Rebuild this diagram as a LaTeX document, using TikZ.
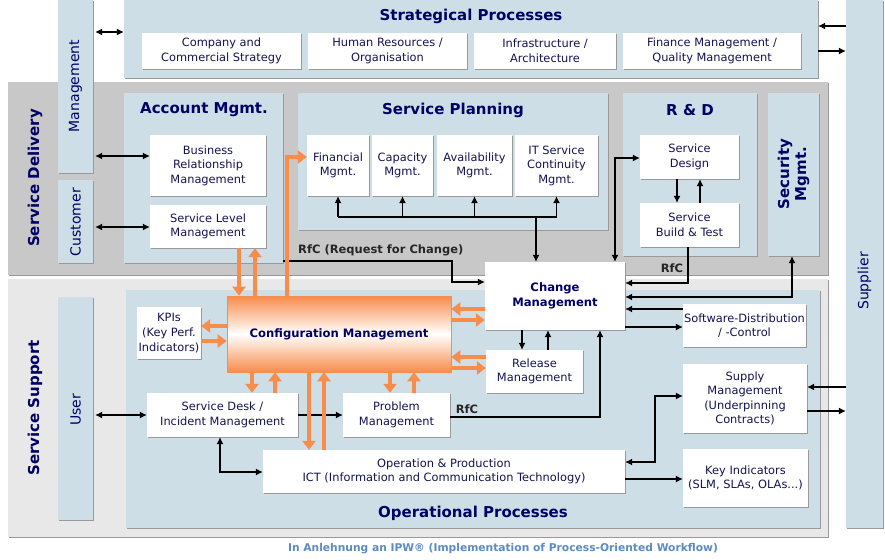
\documentclass[tikz,border=0pt]{standalone}
\usepackage{fontspec}
\setmainfont{DejaVu Sans}
\usetikzlibrary{arrows.meta,shadows}
\definecolor{lblue}{RGB}{206,222,230}
\definecolor{dgray}{RGB}{200,200,200}
\definecolor{lgray}{RGB}{232,232,232}
\definecolor{navy}{RGB}{0,0,102}
\definecolor{txt}{RGB}{20,20,80}
\definecolor{orng}{RGB}{248,140,75}
\definecolor{capc}{RGB}{90,140,195}
\tikzset{
  shad/.style={general shadow={fill=black!40, shadow xshift=1.3pt, shadow yshift=-1.3pt}},
  grp/.style={shad, fill=lblue, draw=none, inner sep=0pt},
  wbox/.style={shad, fill=white, draw=none, inner sep=0pt, text=txt, align=center,
    font=\fontsize{11.4}{14.6}\selectfont},
  ttl/.style={text=navy, font=\fontsize{15}{18}\selectfont\bfseries, inner sep=0pt},
  vlab/.style={text=navy, font=\fontsize{14}{16}\selectfont, rotate=90, inner sep=0pt},
  arr/.style={line width=1.1pt, -{Latex[length=7pt,width=7pt]}},
  dblarr/.style={line width=1.1pt, {Latex[length=7pt,width=7pt]}-{Latex[length=7pt,width=7pt]}},
  oarr/.style={draw=orng, line width=4.8pt, -{Triangle[length=9pt,width=13pt]}, orng},
  rlab/.style={font=\fontsize{11.5}{13}\selectfont\bfseries, text=black!85, inner sep=0pt},
}
\begin{document}
\begin{tikzpicture}[x=1pt,y=-1pt]
\useasboundingbox[fill=white] (0,0) rectangle (885,559);

% big areas
\node[grp, fill=dgray, minimum width=820pt, minimum height=193pt] (Deliv) at (418,178.5) {};
\node[grp, fill=lgray, minimum width=820pt, minimum height=258pt] (Supp) at (418,408) {};
\node[grp, minimum width=694pt, minimum height=78pt] (Strat) at (471,39) {};
\node[grp, minimum width=35pt, minimum height=173pt] (Mgmt) at (75.5,86.5) {};
\node[grp, minimum width=35pt, minimum height=83pt] (Cust) at (75.5,221.5) {};
\node[grp, minimum width=35pt, minimum height=223pt] (User) at (75.5,408.5) {};
\node[grp, minimum width=37pt, minimum height=528pt] (Supplier) at (864.5,264) {};
\node[grp, minimum width=159pt, minimum height=170pt] (Account) at (203.5,178) {};
\node[grp, minimum width=310pt, minimum height=137pt] (Plan) at (453,161.5) {};
\node[grp, minimum width=134pt, minimum height=163pt] (RD) at (690,174.5) {};
\node[grp, minimum width=51pt, minimum height=163pt] (Sec) at (793.5,174.5) {};
\node[grp, minimum width=694pt, minimum height=238pt] (Oper) at (473,409) {};

% titles and vertical labels
\node[ttl] (tStrat) at (471,16) {Strategical Processes};
\node[ttl] (tAcc) at (204,110) {Account Mgmt.};
\node[ttl] (tPlan) at (453,110) {Service Planning};
\node[ttl] (tRD) at (690,110) {R \& D};
\node[ttl] (tOper) at (473,513) {Operational Processes};
\node[ttl, rotate=90] (tDeliv) at (35,178) {Service Delivery};
\node[ttl, rotate=90] (tSupp) at (35,408) {Service Support};
\node[ttl, rotate=90, align=center, font=\fontsize{15}{17}\selectfont\bfseries] (tSec) at (793.5,174) {Security\\Mgmt.};
\node[vlab] (lMgmt) at (75.5,86) {Management};
\node[vlab] (lCust) at (75.5,222) {Customer};
\node[vlab] (lUser) at (75.5,410) {User};
\node[vlab] (lSupplier) at (864.5,281) {Supplier};

% white boxes
\node[wbox, minimum width=159pt, minimum height=36pt] (Comp) at (221.5,51) {Company and\\Commercial Strategy};
\node[wbox, minimum width=159pt, minimum height=36pt] (HR) at (387.5,51) {Human Resources /\\Organisation};
\node[wbox, minimum width=142pt, minimum height=36pt] (Infra) at (545,51) {Infrastructure /\\Architecture};
\node[wbox, minimum width=178pt, minimum height=36pt] (Fin) at (712,51) {Finance Management /\\Quality Management};
\node[wbox, minimum width=116pt, minimum height=61pt] (BRM) at (208,165.5) {Business\\Relationship\\Management};
\node[wbox, minimum width=116pt, minimum height=43pt] (SLM) at (208,226.5) {Service Level\\Management};
\node[wbox, minimum width=62pt, minimum height=61pt] (Financial) at (338,165.5) {Financial\\Mgmt.};
\node[wbox, minimum width=61pt, minimum height=61pt] (Capacity) at (402.5,165.5) {Capacity\\Mgmt.};
\node[wbox, minimum width=75pt, minimum height=61pt] (Avail) at (474.5,165.5) {Availability\\Mgmt.};
\node[wbox, minimum width=83pt, minimum height=61pt] (ITSCM) at (556.5,165.5) {IT Service\\Continuity\\Mgmt.};
\node[wbox, minimum width=99pt, minimum height=44pt] (SDesign) at (689.5,157) {Service\\Design};
\node[wbox, minimum width=99pt, minimum height=44pt] (SBuild) at (689.5,225) {Service\\Build \& Test};
\node[wbox, minimum width=140pt, minimum height=68pt, text=navy, font=\fontsize{11.6}{15.5}\selectfont\bfseries] (Change) at (555,296) {Change\\Management};
\node[wbox, minimum width=97pt, minimum height=43pt] (Release) at (534.5,371.5) {Release\\Management};
\node[wbox, minimum width=64pt, minimum height=52pt] (KPI) at (169,333) {KPIs\\(Key Perf.\\Indicators)};
\node[wbox, minimum width=123pt, minimum height=43pt] (SoftD) at (744.5,325.5) {Software-Distribution\\/ -Control};
\node[wbox, minimum width=124pt, minimum height=69pt] (Supply) at (745,398.5) {Supply\\Management\\(Underpinning\\Contracts)};
\node[wbox, minimum width=125pt, minimum height=58pt] (KeyInd) at (745.5,478) {Key Indicators\\(SLM, SLAs, OLAs...)};
\node[wbox, minimum width=151pt, minimum height=44pt] (SDesk) at (222.5,415) {Service Desk /\\Incident Management};
\node[wbox, minimum width=107pt, minimum height=44pt] (Problem) at (396.5,415) {Problem\\Management};
\node[wbox, minimum width=362pt, minimum height=43pt] (ICT) at (444,471.5) {Operation \& Production\\ICT (Information and Communication Technology)};
\node[shad, draw=orng, line width=0.6pt, top color=orng, bottom color=orng, middle color=white,
  minimum width=224pt, minimum height=76pt, inner sep=0pt, text=navy,
  font=\fontsize{11.6}{14}\selectfont\bfseries] (Config) at (339,334) {Configuration Management};

% labels
\node[rlab, anchor=west] (lRfC1) at (298,250) {RfC (Request for Change)};
\node[rlab] (lRfC2) at (672,268) {RfC};
\node[rlab] (lRfC3) at (467,409) {RfC};
\node[font=\fontsize{10.7}{13}\selectfont\bfseries, text=capc, inner sep=0pt] (cap) at (503,549) {In Anlehnung an IPW® (Implementation of Process-Oriented Workflow)};

% black connectors
\draw[dblarr] (Mgmt.east |- 0,32) ++(2,0) -- (Strat.west |- 0,32);
\draw[dblarr] (Mgmt.east |- 0,156) ++(2,0) -- (BRM.west |- 0,156);
\draw[dblarr] (Cust.east |- 0,227) ++(2,0) -- (SLM.west |- 0,227);
\draw[arr] (Supplier.west |- 0,26) -- (Strat.east |- 0,26);
\draw[arr] (Strat.east |- 0,51) -- (Supplier.west |- 0,51);
\draw[line width=1.1pt] (Financial.south |- 0,217) -- (ITSCM.south |- 0,217);
\foreach \n in {Financial,Capacity,Avail,ITSCM}
  \draw[arr] (\n.south |- 0,217) -- (\n.south);
\draw[arr] (536,217) -- (536,0 |- Change.north);
\draw[dblarr] (615,0 |- Change.north) |- (SDesign.west |- 0,158);
\draw[arr] (677,0 |- SDesign.south) -- (677,0 |- SBuild.north);
\draw[arr] (700,0 |- SBuild.north) -- (700,0 |- SDesign.south);
\draw[arr] (688,0 |- SBuild.south) |- (Change.east |- 0,283);
\draw[dblarr] (Change.east |- 0,297) -| (792,0 |- Sec.south);
\draw[arr] (SoftD.west |- 0,309) -- (Change.east |- 0,309);
\draw[arr] (Change.east |- 0,327) -- (SoftD.west |- 0,327);
\draw[arr] (Account.east |- 0,261) -| (452,282) -- (Change.west |- 0,282);
\draw[arr] (522,0 |- Change.south) -- (522,0 |- Release.north);
\draw[arr] (548,0 |- Release.north) -- (548,0 |- Change.south);
\draw[arr] (Problem.east |- 0,417) -| (600,0 |- Change.south);
\draw[dblarr] (User.east |- 0,415) ++(2,0) -- (SDesk.west |- 0,415);
\draw[arr] (SDesk.east |- 0,415) -- (Problem.west |- 0,415);
\draw[dblarr] (220,0 |- SDesk.south) |- (ICT.west |- 0,472);
\draw[dblarr] (ICT.east |- 0,462) -| (655,396) -- (Supply.west |- 0,396);
\draw[arr] (ICT.east |- 0,479) -- (KeyInd.west |- 0,479);
\draw[arr] (Supplier.west |- 0,387) -- (Supply.east |- 0,387);
\draw[arr] (Supply.east |- 0,411) -- (Supplier.west |- 0,411);

% orange connectors
\draw[oarr] (239,0 |- SLM.south) -- (239,0 |- Config.north);
\draw[oarr] (255,0 |- Config.north) -- (255,0 |- SLM.south);
\draw[oarr] (287,0 |- Config.north) |- (Financial.west |- 0,157);
\draw[oarr] (Change.west |- 0,309) -- (Config.east |- 0,309);
\draw[oarr] (Config.east |- 0,320) -- (Change.west |- 0,320);
\draw[oarr] (Release.west |- 0,357) -- (Config.east |- 0,357);
\draw[oarr] (Config.east |- 0,368) -- (Release.west |- 0,368);
\draw[oarr] (Config.west |- 0,326) -- (KPI.east |- 0,326);
\draw[oarr] (KPI.east |- 0,341) -- (Config.west |- 0,341);
\draw[oarr] (252,0 |- Config.south) -- (252,0 |- SDesk.north);
\draw[oarr] (275,0 |- SDesk.north) -- (275,0 |- Config.south);
\draw[oarr] (309,0 |- Config.south) -- (309,0 |- ICT.north);
\draw[oarr] (324,0 |- ICT.north) -- (324,0 |- Config.south);
\draw[oarr] (390,0 |- Config.south) -- (390,0 |- Problem.north);
\draw[oarr] (414,0 |- Problem.north) -- (414,0 |- Config.south);
\end{tikzpicture}
\end{document}
